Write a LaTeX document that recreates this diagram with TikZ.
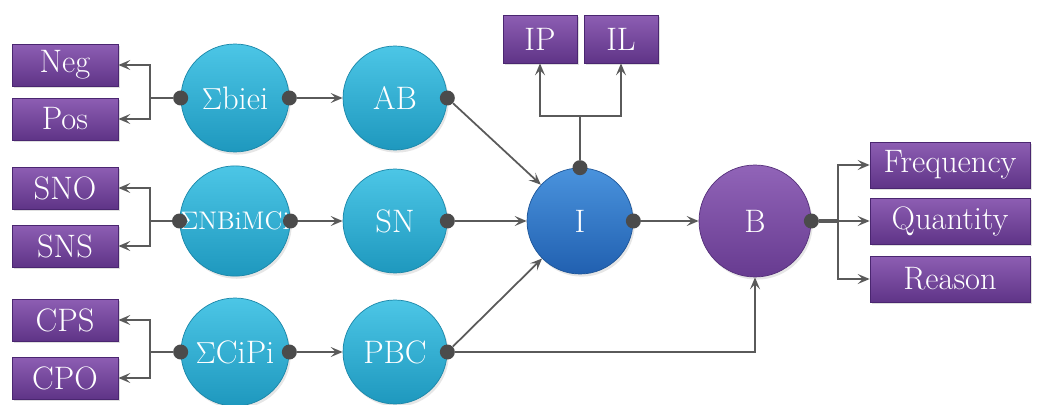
\documentclass[tikz,border=0pt]{standalone}
\usepackage{xcolor}
\usepackage{tikz}
\usetikzlibrary{positioning,arrows.meta,shadows}
\definecolor{BoxTop}{HTML}{8D5EB3}
\definecolor{BoxBot}{HTML}{5F3487}
\definecolor{BoxEdge}{HTML}{4A2670}
\definecolor{CyanTop}{HTML}{4CC6E6}
\definecolor{CyanBot}{HTML}{1E98BE}
\definecolor{CyanEdge}{HTML}{1A86A8}
\definecolor{BlueTop}{HTML}{4A93DD}
\definecolor{BlueBot}{HTML}{2160B0}
\definecolor{BlueEdge}{HTML}{1D5598}
\definecolor{PurTop}{HTML}{9164B8}
\definecolor{PurBot}{HTML}{673B90}
\definecolor{PurEdge}{HTML}{55307A}
\definecolor{LineGray}{HTML}{5A5A5A}
\definecolor{DotGray}{HTML}{4B4B4B}

\begin{document}
\begin{tikzpicture}[
  x=0.02cm, y=-0.02cm,
  every node/.style={font=\fontsize{18.5}{20}\selectfont, text=white},
  box/.style={draw=BoxEdge, top color=BoxTop, bottom color=BoxBot, inner sep=1pt,
              minimum height=0.84cm,
              drop shadow={opacity=0.25, shadow xshift=1pt, shadow yshift=-1.2pt}},
  sbox/.style={box, minimum width=2.12cm},
  rbox/.style={box, minimum width=3.2cm, minimum height=0.92cm},
  tbox/.style={box, minimum width=1.48cm, minimum height=0.96cm},
  ball/.style={circle, inner sep=0pt, minimum size=2.16cm,
               drop shadow={opacity=0.2, shadow xshift=1pt, shadow yshift=-1.5pt}},
  sig/.style={ball, draw=CyanEdge, top color=CyanTop, bottom color=CyanBot},
  att/.style={ball, draw=CyanEdge, top color=CyanTop, bottom color=CyanBot, minimum size=2.08cm},
  inten/.style={ball, draw=BlueEdge, top color=BlueTop, bottom color=BlueBot, minimum size=2.12cm},
  behav/.style={ball, draw=PurEdge, top color=PurTop, bottom color=PurBot, minimum size=2.24cm},
  dot/.style={circle, fill=DotGray, minimum size=0.3cm, inner sep=0pt},
  link/.style={draw=LineGray, line width=1pt},
  arr/.style={link, -{Stealth[length=2.4mm, width=2mm, inset=1mm]}}]

  \useasboundingbox (0,0) rectangle (1043,405);

  % ===== belief sums (left circles) =====
  \node[sig] (sb) at (235,98)  {$\Sigma$biei};
  \node[sig, font=\fontsize{14.5}{16}\selectfont] (sn) at (235,221) {$\Sigma$NBiMCi};
  \node[sig] (sc) at (235,352) {$\Sigma$CiPi};

  % ===== attitude / norm / control =====
  \node[att] (ab)  at (395,98)  {AB};
  \node[att] (snr) at (395,221) {SN};
  \node[att] (pbc) at (395,352) {PBC};

  % ===== intention and behaviour =====
  \node[inten] (i) at (580,221) {I};
  \node[behav] (b) at (755,221) {B};

  % ===== outcome boxes =====
  \node[sbox] (neg) at (65,65)  {Neg};
  \node[sbox] (pos) at (65,119) {Pos};
  \node[sbox] (sno) at (65,188) {SNO};
  \node[sbox] (sns) at (65,246) {SNS};
  \node[sbox] (cps) at (65,320) {CPS};
  \node[sbox] (cpo) at (65,378) {CPO};
  \node[tbox] (ip) at (540,39) {IP};
  \node[tbox] (il) at (621,39) {IL};
  \node[rbox] (freq) at (950,165) {Frequency};
  \node[rbox] (qty)  at (950,221) {Quantity};
  \node[rbox] (rsn)  at (950,279) {Reason};

  % ===== connection dots =====
  \node[dot] (sbl) at (sb.west) {};
  \node[dot] (sbr) at (sb.east) {};
  \node[dot] (snl) at (sn.west) {};
  \node[dot] (snr2) at (sn.east) {};
  \node[dot] (scl) at (sc.west) {};
  \node[dot] (scr) at (sc.east) {};
  \node[dot] (abd) at (ab.east) {};
  \node[dot] (snd) at (snr.east) {};
  \node[dot] (pbcd) at (pbc.east) {};
  \node[dot] (it) at (i.north) {};
  \node[dot] (ir) at (i.east) {};
  \node[dot] (br) at (b.east) {};

  % ===== branch points =====
  \coordinate (t1) at (150,98);
  \coordinate (t2) at (150,221);
  \coordinate (t3) at (150,352);
  \coordinate (ti) at (580,116);
  \coordinate (tb) at (838,221);

  % ===== left brackets =====
  \draw[link, line width=1.5pt] (sbl) -- (t1);
  \draw[arr] (t1) |- (neg.east);
  \draw[arr] (t1) |- (pos.east);
  \draw[link, line width=1.5pt] (snl) -- (t2);
  \draw[arr] (t2) |- (sno.east);
  \draw[arr] (t2) |- (sns.east);
  \draw[link, line width=1.5pt] (scl) -- (t3);
  \draw[arr] (t3) |- (cps.east);
  \draw[arr] (t3) |- (cpo.east);

  % ===== sums -> constructs =====
  \draw[arr] (sbr) -- (ab);
  \draw[arr] (snr2) -- (snr);
  \draw[arr] (scr) -- (pbc);

  % ===== constructs -> intention / behaviour =====
  \draw[arr] (abd) -- (i);
  \draw[arr] (snd) -- (i);
  \draw[arr] (pbcd) -- (i);
  \draw[arr] (pbcd) -| (b.south);
  \draw[arr] (ir) -- (b);

  % ===== intention -> IP / IL =====
  \draw[link] (it) -- (ti);
  \draw[arr] (ti) -| (ip.south);
  \draw[arr] (ti) -| (il.south);

  % ===== behaviour -> outcomes =====
  \draw[link, line width=1.8pt] (br) -- (tb);
  \draw[arr] (tb) |- (freq.west);
  \draw[arr] (tb) |- (qty.west);
  \draw[arr] (tb) |- (rsn.west);

\end{tikzpicture}
\end{document}
